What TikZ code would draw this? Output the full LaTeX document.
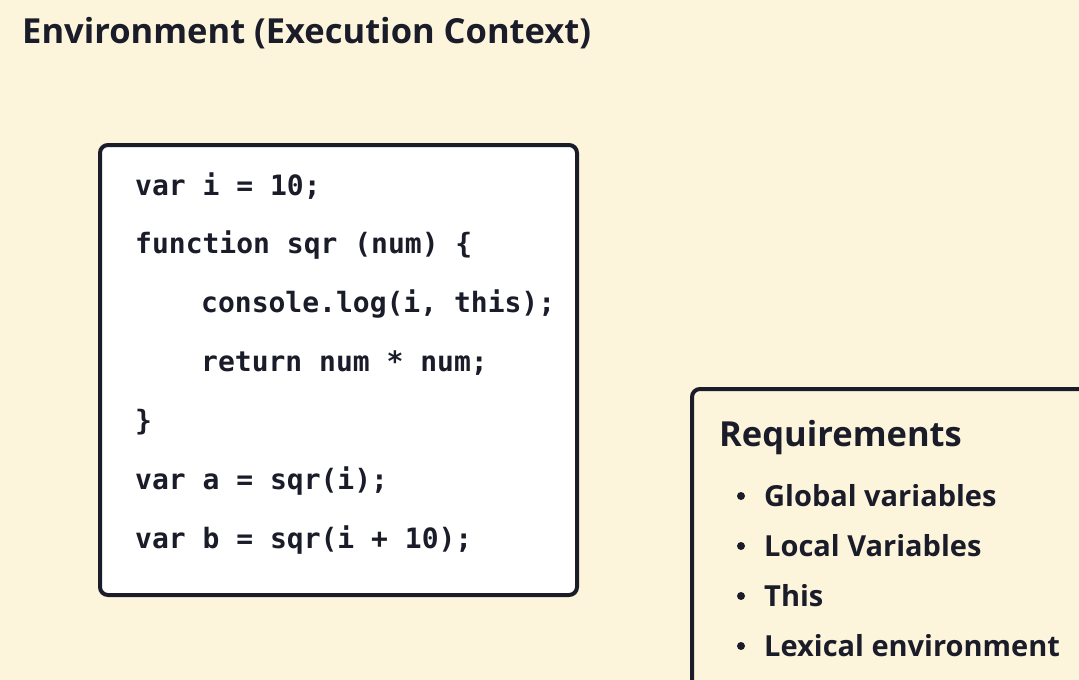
\documentclass[tikz,border=0pt]{standalone}
\usepackage{fontspec}
\setmainfont{Open Sans}
\setmonofont{DejaVu Sans Mono}
\definecolor{bg}{HTML}{FDF4DC}
\definecolor{ink}{HTML}{1A1D29}
\tikzset{
 codeline/.style={anchor=west,inner sep=0pt,text=ink,font=\ttfamily\bfseries\fontsize{28}{30}\selectfont},
 item/.style={anchor=west,inner sep=0pt,text=ink,font=\bfseries\fontsize{29}{32}\selectfont},
 box/.style={draw=ink,line width=4pt,rounded corners=8pt}
}
\begin{document}
\begin{tikzpicture}[x=1pt,y=-1pt]
\useasboundingbox (0,0) rectangle (1079,680);
\clip (0,0) rectangle (1079,680);
\fill[bg] (0,0) rectangle (1079,680);
\node[anchor=west,inner sep=0pt,text=ink,font=\bfseries\fontsize{34.5}{38}\selectfont] (title) at (22,33) {Environment (Execution Context)};
\draw[box,fill=white] (100,145) rectangle (577,595);
\node[codeline] (c1) at (135,186) {var i = 10;};
\node[codeline] (c2) at (135,245) {function sqr (num) \{};
\node[codeline] (c3) at (201,304) {console.log(i, this);};
\node[codeline] (c4) at (201,363) {return num * num;};
\node[codeline] (c5) at (135,422) {\}};
\node[codeline] (c6) at (135,481) {var a = sqr(i);};
\node[codeline] (c7) at (135,540) {var b = sqr(i + 10);};
\draw[box,fill=bg] (692,389) rectangle (1100,720);
\node[anchor=west,inner sep=0pt,text=ink,font=\bfseries\fontsize{34.5}{38}\selectfont] (req) at (719,438) {Requirements};
\foreach \t/\y in {Global variables/496,Local Variables/546,This/596,Lexical environment/646}{
 \fill[ink] (741,\y) circle (4);
 \node[item] at (764,\y) {\t};
}
\end{tikzpicture}
\end{document}
